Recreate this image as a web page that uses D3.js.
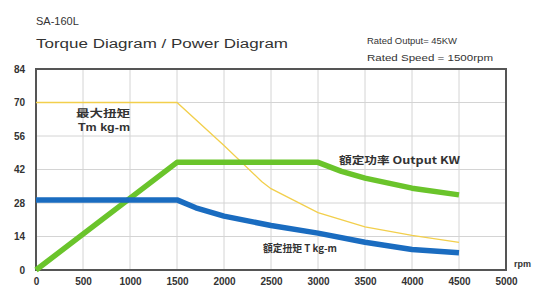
<!DOCTYPE html>
<html>
<head>
<meta charset="utf-8">
<script src="https://cdn.jsdelivr.net/npm/d3@7"></script>
<style>
  body { margin: 0; background: #fff; }
  svg { display: block; font-family: "Liberation Sans", Arial, sans-serif; }
  .grid line { stroke: #d4d4d4; stroke-width: 1; }
  .tick text { font-weight: bold; fill: #333; }
</style>
</head>
<body>
<svg width="533" height="289"></svg>
<script>
// rpm ticks and torque ticks
let xTicks = [0, 500, 1000, 1500, 2000, 2500, 3000, 3500, 4000, 4500, 5000];
let yTicks = [0, 14, 28, 42, 56, 70, 84];

// max torque Tm (kg-m)
let tmRpm = [0, 1500, 2000, 2400, 2500, 3000, 3500, 4000, 4500];
let tmVal = [70, 70, 52, 37, 34, 24, 18, 14.5, 11.5];

// output (KW)
let outRpm = [0, 1500, 3000, 3250, 3500, 4000, 4500];
let outVal = [0, 45, 45, 41.2, 38.4, 34.2, 31.4];

// rated torque T (kg-m)
let tRpm = [0, 1500, 1700, 2000, 2500, 3000, 3500, 4000, 4500];
let tVal = [29.3, 29.3, 26, 22.5, 18.6, 15.4, 11.6, 8.6, 7.2];

let svg = d3.select("svg");
let plotLeft = 36, plotRight = 506, plotTop = 69, plotBottom = 270;

let x = d3.scaleLinear().domain([0, 5000]).range([plotLeft, plotRight]);
let y = d3.scaleLinear().domain([0, 84]).range([plotBottom, plotTop]);

// titles
svg.append("text").attr("x", 36).attr("y", 25)
  .attr("font-size", 11).attr("fill", "#333").text("SA-160L");
svg.append("text").attr("x", 36).attr("y", 48)
  .attr("font-size", 12.5).attr("fill", "#333")
  .attr("textLength", 252).attr("lengthAdjust", "spacingAndGlyphs")
  .text("Torque Diagram / Power Diagram");
svg.append("text").attr("x", 367).attr("y", 44)
  .attr("font-size", 9).attr("fill", "#333")
  .attr("textLength", 90).attr("lengthAdjust", "spacingAndGlyphs")
  .text("Rated Output= 45KW");
svg.append("text").attr("x", 367).attr("y", 61)
  .attr("font-size", 9).attr("fill", "#333")
  .attr("textLength", 126).attr("lengthAdjust", "spacingAndGlyphs")
  .text("Rated Speed = 1500rpm");

// grid
let grid = svg.append("g").attr("class", "grid");
grid.selectAll(".v").data(xTicks.slice(1, -1)).join("line")
  .attr("x1", d => x(d)).attr("x2", d => x(d))
  .attr("y1", plotTop).attr("y2", plotBottom);
grid.selectAll(".h").data(yTicks.slice(1, -1)).join("line")
  .attr("x1", plotLeft).attr("x2", plotRight)
  .attr("y1", d => y(d)).attr("y2", d => y(d));

// axes
let xAxis = svg.append("g").attr("transform", `translate(0,${plotBottom})`)
  .call(d3.axisBottom(x).tickValues(xTicks).tickFormat(d3.format("d")).tickSize(0).tickPadding(8));
xAxis.select(".domain").remove();
xAxis.selectAll("text").attr("font-size", 10);

let yAxis = svg.append("g").attr("transform", `translate(${plotLeft - 11},0)`)
  .call(d3.axisLeft(y).tickValues(yTicks).tickSize(0).tickPadding(0));
yAxis.select(".domain").remove();
yAxis.selectAll("text").attr("font-size", 10);

svg.append("text").attr("x", 514).attr("y", 267)
  .attr("font-size", 9).attr("font-weight", "bold").attr("fill", "#333").text("rpm");

// frame
svg.append("rect").attr("x", plotLeft).attr("y", plotTop)
  .attr("width", plotRight - plotLeft).attr("height", plotBottom - plotTop)
  .attr("fill", "none").attr("stroke", "#555").attr("stroke-width", 2);

// curves
let line = d3.line().x(d => x(d[0])).y(d => y(d[1]));

svg.append("path").datum(d3.zip(tmRpm, tmVal)).attr("d", line)
  .attr("fill", "none").attr("stroke", "#f2cf4c").attr("stroke-width", 1.3);
svg.append("path").datum(d3.zip(outRpm, outVal)).attr("d", line)
  .attr("fill", "none").attr("stroke", "#6ac42b").attr("stroke-width", 5.5)
  .attr("stroke-linejoin", "round");
svg.append("path").datum(d3.zip(tRpm, tVal)).attr("d", line)
  .attr("fill", "none").attr("stroke", "#1a6cc0").attr("stroke-width", 5.5)
  .attr("stroke-linejoin", "round");

// curve labels
let cjk = "'Noto Sans CJK TC', 'Noto Sans CJK SC', sans-serif";
function label(px, py, txt, len, fam) {
  svg.append("text").attr("x", px).attr("y", py)
    .attr("font-family", fam).attr("font-size", 10).attr("font-weight", "bold").attr("fill", "#333")
    .attr("textLength", len).attr("lengthAdjust", "spacingAndGlyphs")
    .text(txt);
}
label(76, 117, "最大扭矩", 54, cjk);
label(78, 131, "Tm kg-m", 52, null);
label(339, 164, "額定功率 Output KW", 121, cjk);
label(263, 252, "額定扭矩 T kg-m", 74, cjk);
</script>
</body>
</html>
